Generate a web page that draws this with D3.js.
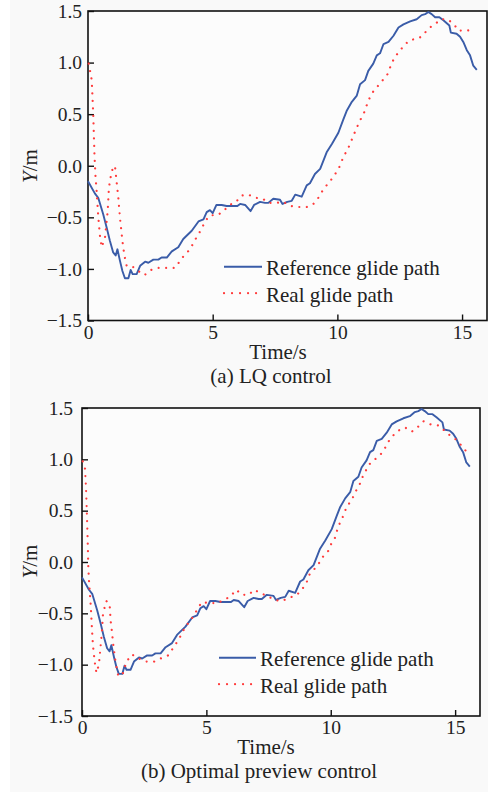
<!DOCTYPE html>
<html lang="en">
<head>
<meta charset="UTF-8" />
<title>Glide path tracking</title>
<script src="https://d3js.org/d3.v7.min.js"></script>
<style>
  body { margin: 0; background: #fff; }
  svg { display: block; font-family: 'Liberation Serif', 'Times New Roman', serif; }
  .tick text { fill: #222; }
</style>
</head>
<body>
<svg width="496" height="792"></svg>
<script>
// reference glide path, same in both panels [time s, Y m]
const referencePath = [
  [0,-0.15],[0.28,-0.27],[0.41,-0.31],[0.61,-0.47],[0.75,-0.6],[0.88,-0.73],[1.01,-0.84],[1.11,-0.87],
  [1.18,-0.81],[1.28,-0.92],[1.38,-1.02],[1.48,-1.09],[1.62,-1.09],[1.71,-1.01],[1.79,-1.05],[1.95,-1.05],
  [2.09,-0.97],[2.29,-0.93],[2.42,-0.94],[2.62,-0.91],[2.82,-0.91],[2.95,-0.89],[3.16,-0.89],[3.36,-0.83],
  [3.62,-0.79],[3.82,-0.71],[4.16,-0.63],[4.43,-0.54],[4.63,-0.52],[4.76,-0.45],[4.89,-0.43],[5.0,-0.46],
  [5.15,-0.38],[5.36,-0.38],[5.56,-0.39],[5.99,-0.39],[6.1,-0.37],[6.3,-0.38],[6.52,-0.44],[6.66,-0.38],
  [6.9,-0.35],[7.1,-0.36],[7.23,-0.36],[7.43,-0.32],[7.7,-0.33],[7.8,-0.37],[7.99,-0.35],[8.17,-0.34],
  [8.31,-0.28],[8.57,-0.30],[8.77,-0.19],[8.9,-0.17],[9.1,-0.08],[9.31,-0.03],[9.57,0.13],[9.78,0.21],
  [10.04,0.32],[10.24,0.45],[10.37,0.53],[10.58,0.62],[10.78,0.68],[10.91,0.79],[11.11,0.83],[11.24,0.92],
  [11.44,0.99],[11.58,1.07],[11.71,1.09],[11.85,1.18],[12.05,1.20],[12.25,1.26],[12.45,1.34],[12.65,1.37],
  [12.92,1.40],[13.18,1.42],[13.38,1.46],[13.52,1.47],[13.65,1.49],[13.78,1.47],[13.92,1.44],[14.09,1.44],
  [14.25,1.41],[14.49,1.36],[14.55,1.29],[14.78,1.28],[14.92,1.25],[15.05,1.20],[15.19,1.12],[15.32,1.07],
  [15.45,0.97],[15.59,0.93]
];

// real glide path with LQ control
const realLQ = [
  [0.03,0.99],[0.15,0.83],[0.21,0.5],[0.26,0.1],[0.3,-0.1],[0.35,-0.26],[0.41,-0.49],[0.48,-0.68],
  [0.55,-0.79],[0.68,-0.70],[0.79,-0.44],[0.84,-0.21],[0.95,-0.05],[1.08,0.0],[1.15,-0.16],[1.22,-0.32],
  [1.28,-0.50],[1.38,-0.73],[1.46,-0.87],[1.55,-0.97],[1.75,-0.97],[2.02,-1.02],[2.26,-1.06],[2.53,-1.01],
  [2.82,-0.99],[3.15,-0.99],[3.49,-0.99],[3.82,-0.88],[4.09,-0.81],[4.29,-0.72],[4.56,-0.61],[4.69,-0.54],
  [4.89,-0.48],[5.19,-0.48],[5.43,-0.44],[5.67,-0.38],[5.94,-0.35],[6.14,-0.29],[6.43,-0.28],[6.70,-0.31],
  [7.01,-0.32],[7.23,-0.36],[7.57,-0.36],[7.83,-0.35],[8.13,-0.39],[8.44,-0.40],[8.77,-0.40],[9.04,-0.37],
  [9.24,-0.31],[9.41,-0.24],[9.6,-0.18],[9.77,-0.13],[9.97,-0.06],[10.13,0.01],[10.24,0.09],[10.4,0.15],
  [10.54,0.23],[10.64,0.29],[10.78,0.37],[10.91,0.44],[11.05,0.5],[11.15,0.57],[11.28,0.65],[11.44,0.72],
  [11.65,0.78],[11.82,0.83],[12.02,0.89],[12.14,0.97],[12.31,1.06],[12.47,1.10],[12.68,1.17],[12.92,1.22],
  [13.21,1.23],[13.42,1.26],[13.65,1.33],[13.89,1.37],[14.16,1.42],[14.42,1.42],[14.68,1.37],[14.85,1.31],
  [15.19,1.31],[15.45,1.32]
];

// real glide path with optimal preview control
const realPreview = [
  [0.03,0.98],[0.12,0.91],[0.16,0.73],[0.21,0.37],[0.24,0.1],[0.25,-0.03],[0.28,-0.18],[0.35,-0.42],
  [0.40,-0.65],[0.44,-0.81],[0.51,-0.97],[0.58,-1.08],[0.68,-1.0],[0.74,-0.84],[0.80,-0.68],[0.84,-0.52],
  [0.91,-0.44],[0.98,-0.38],[1.11,-0.41],[1.15,-0.57],[1.19,-0.65],[1.26,-0.81],[1.34,-0.96],[1.45,-1.10],
  [1.61,-1.11],[1.79,-0.97],[2.01,-0.90],[2.28,-0.94],[2.59,-0.97],[2.9,-0.97],[3.16,-0.94],[3.46,-0.91],
  [3.66,-0.84],[3.82,-0.78],[3.99,-0.71],[4.15,-0.63],[4.33,-0.58],[4.5,-0.52],[4.66,-0.45],[4.82,-0.39],
  [5.1,-0.40],[5.42,-0.40],[5.72,-0.37],[5.99,-0.33],[6.2,-0.27],[6.43,-0.32],[6.7,-0.32],[6.92,-0.27],
  [7.16,-0.30],[7.43,-0.33],[7.77,-0.37],[8.03,-0.38],[8.33,-0.35],[8.64,-0.32],[8.84,-0.27],[9.03,-0.20],
  [9.12,-0.13],[9.34,-0.07],[9.53,-0.01],[9.71,0.06],[9.91,0.11],[10.04,0.19],[10.21,0.25],[10.27,0.33],
  [10.41,0.40],[10.54,0.47],[10.64,0.54],[10.84,0.60],[10.98,0.68],[11.14,0.74],[11.24,0.81],[11.41,0.89],
  [11.54,0.95],[11.78,1.0],[12.01,1.05],[12.18,1.11],[12.34,1.18],[12.54,1.24],[12.72,1.28],[12.99,1.31],
  [13.26,1.27],[13.52,1.32],[13.73,1.37],[14.02,1.34],[14.34,1.33],[14.57,1.28],[14.81,1.23],[15.05,1.19],
  [15.27,1.13],[15.47,1.07]
];

const xTicks = [0, 5, 10, 15];
const yTicks = [-1.5, -1.0, -0.5, 0.0, 0.5, 1.0, 1.5];
const legendLabels = ["Reference glide path", "Real glide path"];
const captions = ["(a) LQ control", "(b) Optimal preview control"];

const blue = "#3a5ca8", red = "#ff3b3b";
const svg = d3.select("svg");

svg.append("rect").attr("x", 10).attr("y", 0).attr("width", 478).attr("height", 792).attr("fill", "#f9f9f9");

function drawPanel(p, real, caption) {
  const x = d3.scaleLinear().domain([0, 16]).range([p.left, p.right]);
  const y = d3.scaleLinear().domain([-1.5, 1.5]).range([p.bottom, p.top]);
  const g = svg.append("g");

  g.append("rect")
    .attr("x", p.left).attr("y", p.top)
    .attr("width", p.right - p.left).attr("height", p.bottom - p.top)
    .attr("fill", "#fcfcfc").attr("stroke", "#111").attr("stroke-width", 1.6);

  const xAxis = g.append("g").attr("transform", `translate(0,${p.bottom})`)
    .call(d3.axisBottom(x).tickValues(xTicks).tickFormat(d3.format("d")).tickSizeInner(-6).tickSizeOuter(0).tickPadding(4));
  xAxis.select(".domain").remove();
  xAxis.selectAll("line").attr("stroke", "#111").attr("stroke-width", 1.4);
  xAxis.selectAll("text").attr("font-size", 19.5).attr("font-family", "Liberation Serif").attr("dy", "0.72em");

  const yAxis = g.append("g").attr("transform", `translate(${p.left},0)`)
    .call(d3.axisLeft(y).tickValues(yTicks).tickFormat(d3.format(".1f")).tickSizeInner(-6).tickSizeOuter(0).tickPadding(p.yPad));
  yAxis.select(".domain").remove();
  yAxis.selectAll("line").attr("stroke", "#111").attr("stroke-width", 1.4);
  yAxis.selectAll("text").attr("font-size", 19.5).attr("font-family", "Liberation Serif");

  const line = d3.line().x(d => x(d[0])).y(d => y(d[1]));

  g.append("path").datum(referencePath).attr("d", line)
    .attr("fill", "none").attr("stroke", blue).attr("stroke-width", 1.9).attr("stroke-linejoin", "round");
  g.append("path").datum(real).attr("d", line)
    .attr("fill", "none").attr("stroke", red).attr("stroke-width", 2.2)
    .attr("stroke-linecap", "round").attr("stroke-dasharray", "0.01 7.5");

  // legend
  const lg = g.append("g");
  legendLabels.forEach((lab, i) => {
    const ly = p.legY + i * p.legGap;
    lg.append("line").attr("x1", p.legX).attr("x2", p.legX + p.legLen).attr("y1", ly).attr("y2", ly)
      .attr("stroke", i ? red : blue).attr("stroke-width", i ? 2.2 : 1.9)
      .attr("stroke-linecap", i ? "round" : "butt").attr("stroke-dasharray", i ? "0.01 8" : null);
    lg.append("text").attr("x", p.legX + p.legLen + 4).attr("y", ly + 8.5)
      .attr("font-size", 21).attr("fill", "#222").text(lab);
  });

  g.append("text").attr("x", p.titleX).attr("y", p.bottom + 38).attr("text-anchor", "middle")
    .attr("font-size", 21).attr("fill", "#222").text("Time/s");
  g.append("text").attr("x", p.titleX - 7).attr("y", p.bottom + 62).attr("text-anchor", "middle")
    .attr("font-size", 21).attr("fill", "#222").text(caption);

  const yl = g.append("text").attr("transform", `translate(${p.yLabX},${p.yLabY}) rotate(-90)`)
    .attr("text-anchor", "middle").attr("font-size", 21).attr("fill", "#222");
  yl.append("tspan").attr("font-style", "italic").text("Y");
  yl.append("tspan").text("/m");
}

drawPanel({ left: 88, right: 487, top: 11, bottom: 320.5, yPad: 6, legX: 224, legY: 266.7, legGap: 26.5, legLen: 38,
            titleX: 278, yLabX: 36.5, yLabY: 166 }, realLQ, captions[0]);
drawPanel({ left: 82, right: 480, top: 408, bottom: 716, yPad: 9, legX: 219, legY: 657.7, legGap: 26.5, legLen: 37,
            titleX: 266, yLabX: 37, yLabY: 561.5 }, realPreview, captions[1]);
</script>
</body>
</html>
